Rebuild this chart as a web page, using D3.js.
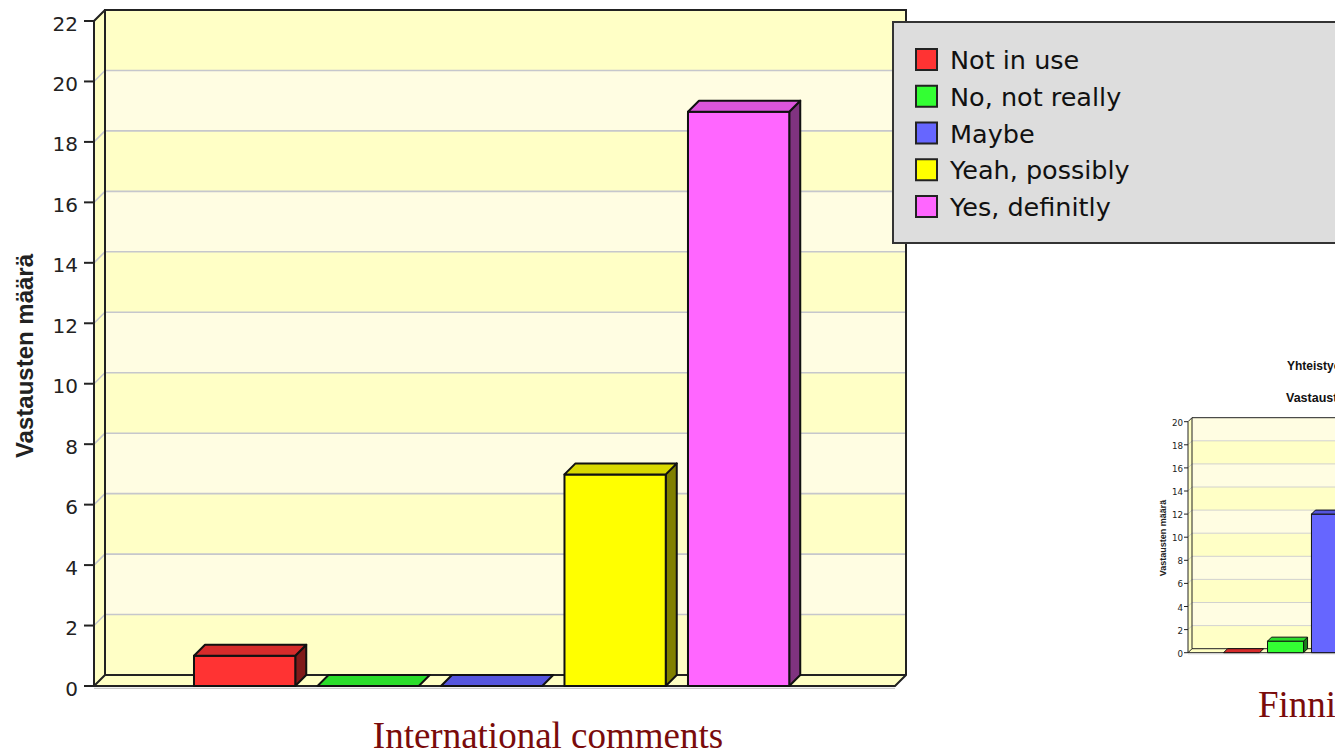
<!DOCTYPE html>
<html>
<head>
<meta charset="utf-8">
<script src="https://cdn.jsdelivr.net/npm/d3@7"></script>
<style>
  html, body { margin: 0; padding: 0; background: #ffffff; overflow: hidden; }
  svg { display: block; }
</style>
</head>
<body>
<svg id="chart" width="1335" height="754"></svg>
<script>
// ---------------- data ----------------
const categories = ["Not in use", "No, not really", "Maybe", "Yeah, possibly", "Yes, definitly"];
const intlValues = [1, 0, 0, 7, 19];
const finnValues = [0, 1, 12];          // only the first three bars are visible in the picture
const intlTicks = [0, 2, 4, 6, 8, 10, 12, 14, 16, 18, 20, 22];
const finnTicks = [0, 2, 4, 6, 8, 10, 12, 14, 16, 18, 20];
const frontColors = ["#FF3333", "#33FF33", "#6666FF", "#FFFF00", "#FF66FF"];
const topColors   = ["#D62B2B", "#2ADD2A", "#5555DD", "#D9D900", "#DC55DC"];
const sideColors  = ["#801A1A", "#1A801A", "#333380", "#808000", "#803380"];
const yAxisTitle = "Vastausten määrä";
const intlCaption = "International comments";
const finnCaption = "Finnish comments";
const finnTitle1 = "Yhteistyö";
const finnTitle2 = "Vastausten";

const svg = d3.select("#chart");

function draw3D(o) {
  const g = svg.append("g");
  const d = o.depth;
  const y = d3.scaleLinear().domain([0, o.max]).range([o.bottom, o.top]);
  const x = d3.scaleBand().domain(categories).range([o.left, o.right])
    .paddingInner(0.18).paddingOuter(0.833).align(0.486);
  const ticks = o.ticks;
  const line = o.lw;

  // back wall bands
  g.selectAll("rect.band").data(d3.range(ticks.length - 1)).join("rect")
    .attr("x", o.left + d)
    .attr("y", i => y(ticks[i + 1]) - d)
    .attr("width", o.right - o.left)
    .attr("height", i => y(ticks[i]) - y(ticks[i + 1]))
    .attr("fill", i => i % 2 === 0 ? "#FFFFC6" : "#FFFDE2");

  // left wall
  g.append("polygon")
    .attr("points", [[o.left, o.bottom], [o.left, y(o.max)], [o.left + d, y(o.max) - d], [o.left + d, o.bottom - d]].join(" "))
    .attr("fill", "#FFFFC4");

  // grid lines
  const grid = ticks.filter(t => t > 0 && t < o.max);
  g.selectAll("line.gridb").data(grid).join("line")
    .attr("x1", o.left + d).attr("x2", o.right + d)
    .attr("y1", t => y(t) - d).attr("y2", t => y(t) - d)
    .attr("stroke", "#C6C7CC").attr("stroke-width", o.gw);
  g.selectAll("line.gridl").data(grid).join("line")
    .attr("x1", o.left).attr("x2", o.left + d)
    .attr("y1", t => y(t)).attr("y2", t => y(t) - d)
    .attr("stroke", "#C6C7CC").attr("stroke-width", o.gw);

  // floor
  g.append("polygon")
    .attr("points", [[o.left, o.bottom], [o.left + d, o.bottom - d], [o.right + d, o.bottom - d], [o.right, o.bottom]].join(" "))
    .attr("fill", "#FFFFC4").attr("stroke", "#222").attr("stroke-width", line).attr("stroke-linejoin", "round");

  // floor shadow
  g.append("line")
    .attr("x1", o.left).attr("x2", o.right)
    .attr("y1", o.bottom + line * 1.2).attr("y2", o.bottom + line * 1.2)
    .attr("stroke", "#C8C8C8").attr("stroke-width", line * 0.7);

  // wall outlines
  g.append("path")
    .attr("d", `M${o.left + d},${o.bottom - d} L${o.left + d},${y(o.max) - d} L${o.right + d},${y(o.max) - d} L${o.right + d},${o.bottom - d}`)
    .attr("fill", "none").attr("stroke", "#222").attr("stroke-width", line);
  g.append("path")
    .attr("d", `M${o.left},${o.bottom} L${o.left},${y(o.max)} L${o.left + d},${y(o.max) - d}`)
    .attr("fill", "none").attr("stroke", "#222").attr("stroke-width", line);

  // bars
  const bw = x.bandwidth();
  o.values.forEach((v, i) => {
    const bx = x(categories[i]);
    const yt = y(v), yb = o.bottom;
    const bg = g.append("g").attr("stroke", "#111").attr("stroke-width", line).attr("stroke-linejoin", "round");
    if (v > 0) {
      bg.append("polygon")
        .attr("points", [[bx + bw, yt], [bx + bw + d, yt - d], [bx + bw + d, yb - d], [bx + bw, yb]].join(" "))
        .attr("fill", sideColors[i]);
      bg.append("rect")
        .attr("x", bx).attr("y", yt).attr("width", bw).attr("height", yb - yt)
        .attr("fill", frontColors[i]);
    }
    bg.append("polygon")
      .attr("points", [[bx, yt], [bx + d, yt - d], [bx + bw + d, yt - d], [bx + bw, yt]].join(" "))
      .attr("fill", topColors[i]);
  });

  // axis ticks and labels
  g.selectAll("line.tick").data(ticks).join("line")
    .attr("x1", o.left - o.tickLen).attr("x2", o.left)
    .attr("y1", t => y(t)).attr("y2", t => y(t))
    .attr("stroke", "#222").attr("stroke-width", line);
  g.selectAll("text.tick").data(ticks).join("text")
    .attr("x", o.left - o.tickLen - o.labelGap)
    .attr("y", t => y(t) + o.labelDy)
    .attr("text-anchor", "end")
    .attr("dominant-baseline", "central")
    .attr("font-family", "DejaVu Sans, sans-serif")
    .attr("font-size", o.tickFont)
    .attr("fill", "#222")
    .text(t => t);

  // axis title
  g.append("text")
    .attr("transform", `translate(${o.titleX},${o.titleY}) rotate(-90)`)
    .attr("text-anchor", "middle")
    .attr("dominant-baseline", "central")
    .attr("font-family", "Liberation Sans, Arial, sans-serif")
    .attr("font-weight", "bold")
    .attr("font-size", o.titleFont)
    .attr("fill", "#222")
    .text(yAxisTitle);
  return g;
}

// main chart
draw3D({
  left: 94, right: 895, top: 21, bottom: 686, depth: 11, max: 22,
  ticks: intlTicks, values: intlValues, lw: 2, gw: 1.6,
  tickLen: 10, labelGap: 6, labelDy: 2.5, tickFont: 20,
  titleX: 24, titleY: 356, titleFont: 24
});

// second (cropped) chart
draw3D({
  left: 1188, right: 1473, top: 421.7, bottom: 652.7, depth: 4, max: 20,
  ticks: finnTicks, values: finnValues, lw: 1, gw: 0.8,
  tickLen: 4, labelGap: 1, labelDy: 1, tickFont: 8.7,
  titleX: 1163, titleY: 538, titleFont: 9
});

svg.append("text").attr("x", 1287).attr("y", 370)
  .attr("font-family", "Liberation Sans, Arial, sans-serif").attr("font-weight", "bold")
  .attr("font-size", 12).attr("fill", "#111").text(finnTitle1);
svg.append("text").attr("x", 1286).attr("y", 401.5)
  .attr("font-family", "Liberation Sans, Arial, sans-serif").attr("font-weight", "bold")
  .attr("font-size", 12.5).attr("fill", "#111").text(finnTitle2);

// legend of the main chart
const legend = svg.append("g");
legend.append("rect")
  .attr("x", 893).attr("y", 22).attr("width", 520).attr("height", 221)
  .attr("fill", "#DDDDDD").attr("stroke", "#333").attr("stroke-width", 2);
const items = legend.selectAll("g.item").data(categories).join("g")
  .attr("transform", (c, i) => `translate(916,${49 + i * 36.75})`);
items.append("rect")
  .attr("width", 21).attr("height", 21)
  .attr("fill", (c, i) => frontColors[i])
  .attr("stroke", "#222").attr("stroke-width", 2);
items.append("text")
  .attr("x", 34).attr("y", 11)
  .attr("dominant-baseline", "central")
  .attr("font-family", "DejaVu Sans, sans-serif")
  .attr("font-size", 25.5).attr("fill", "#111")
  .text(c => c);

// captions
svg.append("text").attr("x", 548).attr("y", 748).attr("text-anchor", "middle")
  .attr("font-family", "Liberation Serif, Times New Roman, serif")
  .attr("font-size", 37).attr("fill", "#7A0B0B").text(intlCaption);
svg.append("text").attr("x", 1258).attr("y", 717)
  .attr("font-family", "Liberation Serif, Times New Roman, serif")
  .attr("font-size", 37).attr("fill", "#7A0B0B").text(finnCaption);
</script>
</body>
</html>
